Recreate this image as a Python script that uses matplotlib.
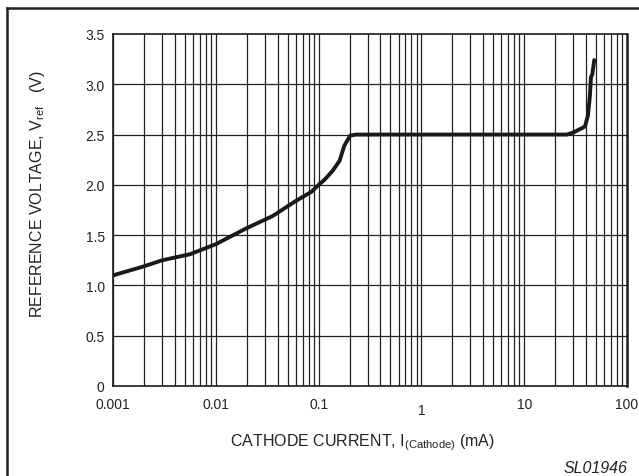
import numpy as np
import matplotlib
matplotlib.use('Agg')
import matplotlib.pyplot as plt
from matplotlib.lines import Line2D
from matplotlib.transforms import ScaledTranslation

plt.rcParams['font.family'] = ['Liberation Sans', 'DejaVu Sans']
plt.rcParams['mathtext.fontset'] = 'custom'
plt.rcParams['mathtext.rm'] = 'Liberation Sans'
plt.rcParams['mathtext.it'] = 'Liberation Sans:italic'

# curve (mA, V)
current = [0.001, 0.002, 0.003, 0.0056, 0.01, 0.02, 0.0357, 0.06, 0.085, 0.1,
           0.114, 0.137, 0.16, 0.178, 0.203, 0.23, 26, 30, 39, 41.7, 43.6,
           44.6, 46, 48]
voltage = [1.10, 1.19, 1.25, 1.31, 1.41, 1.57, 1.69, 1.84, 1.93, 2.0,
           2.05, 2.14, 2.24, 2.39, 2.49, 2.5, 2.5, 2.52, 2.58, 2.69, 2.89,
           3.07, 3.10, 3.24]

x_ticks = [0.001, 0.01, 0.1, 1, 10, 100]
x_tick_labels = ['0.001', '0.01', '0.1', '1', '10', '100']
y_ticks = [0, 0.5, 1.0, 1.5, 2.0, 2.5, 3.0, 3.5]
y_tick_labels = ['0', '0.5', '1.0', '1.5', '2.0', '2.5', '3.0', '3.5']

fig = plt.figure(figsize=(6.39, 4.77), dpi=100)
ax = fig.add_axes([113 / 639, 1 - 387 / 477, 514 / 639, 352 / 477])

ax.set_xscale('log')
ax.set_xlim(0.001, 100)
ax.set_ylim(0, 3.5)

# log grid: every minor position in each decade
for dec in [0.001, 0.01, 0.1, 1, 10]:
    for k in range(1, 10):
        ax.axvline(dec * k, color='#222222', lw=0.9, zorder=1)
for yv in y_ticks[1:-1]:
    ax.axhline(yv, color='#222222', lw=0.9, zorder=1)

ax.plot(current, voltage, color='#1a1a1a', lw=2.8, solid_capstyle='round',
        solid_joinstyle='round', zorder=3)

ax.set_xticks(x_ticks)
ax.set_xticklabels(x_tick_labels, fontsize=10)
ax.xaxis.set_minor_locator(matplotlib.ticker.NullLocator())
ax.set_yticks(y_ticks)
ax.set_yticklabels(y_tick_labels, fontsize=10)
ax.tick_params(length=0, pad=8, colors='#222222')
ax.tick_params(axis='y', pad=6)

# the "1" label sits a little lower in the original
for lbl in ax.get_xticklabels():
    if lbl.get_text() == '1':
        lbl.set_transform(lbl.get_transform() + ScaledTranslation(0, -4 / 72, fig.dpi_scale_trans))

for s in ['left', 'bottom', 'top']:
    ax.spines[s].set_linewidth(1.2)
    ax.spines[s].set_color('#1a1a1a')
ax.spines['right'].set_linewidth(1.8)
ax.spines['right'].set_color('#1a1a1a')

fig.text(362 / 639, 1 - 443 / 477, 'CATHODE CURRENT, I$_{\\mathrm{(Cathode)}}$ (mA)',
         fontsize=11.5, ha='center', va='center', color='#222222')
fig.text(38 / 639, 1 - 194 / 477, 'REFERENCE VOLTAGE, V$_{\\mathrm{ref}}$   (V)',
         fontsize=11.5, ha='center', va='center', rotation=90, color='#222222')

fig.text(627 / 639, 1 - 469 / 477, 'SL01946', fontsize=11.5, style='italic',
         ha='right', va='center', color='#222222')

# outer frame (left and top only)
fy = 1 - 9 / 477
fx = 7 / 639
fig.add_artist(Line2D([fx, fx], [0, fy], color='#222222', lw=1.8, transform=fig.transFigure))
fig.add_artist(Line2D([fx, 1], [fy, fy], color='#222222', lw=1.8, transform=fig.transFigure))

fig.savefig('out.png', dpi=100)
